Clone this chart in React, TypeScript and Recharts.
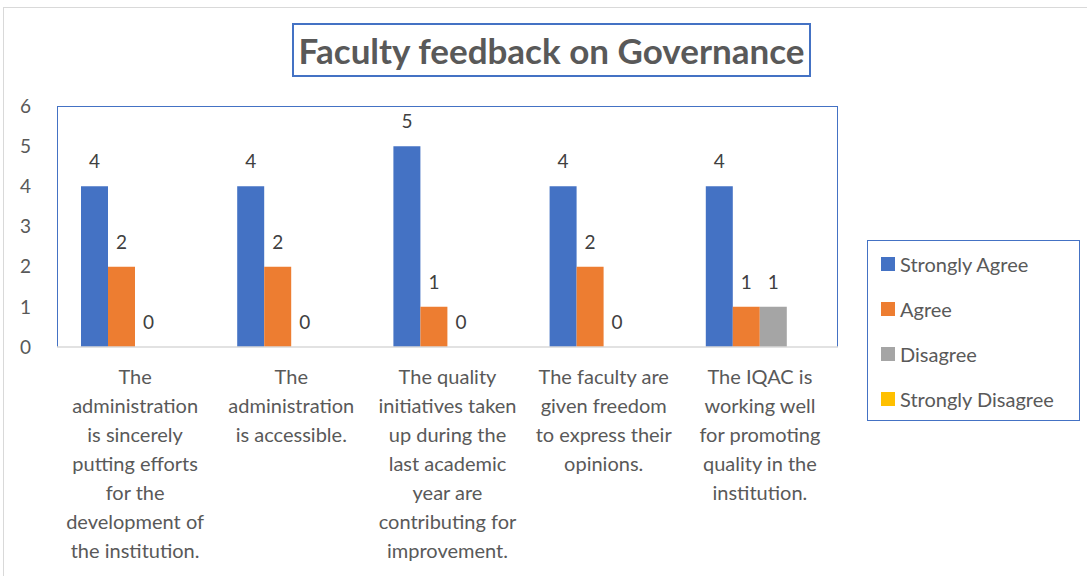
import { BarChart, Bar, XAxis, YAxis, LabelList } from "recharts";

const categories = [
    "The administration is sincerely putting efforts for the development of the institution.",
    "The administration is accessible.",
    "The quality initiatives taken up during the last academic year are contributing for improvement.",
    "The faculty are given freedom to express their opinions.",
    "The IQAC is working well for promoting quality in the institution.",
];

const categoryLines = [
    ["The", "administration", "is sincerely", "putting efforts", "for the", "development of", "the institution."],
    ["The", "administration", "is accessible."],
    ["The quality", "initiatives taken", "up during the", "last academic", "year are", "contributing for", "improvement."],
    ["The faculty are", "given freedom", "to express their", "opinions."],
    ["The IQAC is", "working well", "for promoting", "quality in the", "institution."],
];

const stronglyAgree = [4, 4, 5, 4, 4];
const agree = [2, 2, 1, 2, 1];
const disagree = [0, 0, 0, 0, 1];
const stronglyDisagree = [null, null, null, null, null];

const yTicks = [0, 1, 2, 3, 4, 5, 6];

const series = [
    { key: "Strongly Agree", color: "#4472C4" },
    { key: "Agree", color: "#ED7D31" },
    { key: "Disagree", color: "#A5A5A5" },
    { key: "Strongly Disagree", color: "#FFC000" },
];

const data = categories.map((name, i) => ({
    name,
    "Strongly Agree": stronglyAgree[i],
    Agree: agree[i],
    Disagree: disagree[i],
    "Strongly Disagree": stronglyDisagree[i],
}));

const FONT = "Lato, 'Noto Sans', sans-serif";
const TEXT = "#595959";

const CategoryTick = (props: any) => {
    const { x, y, index } = props;
    const lines = categoryLines[index] || [];
    return (
        <text x={x} y={y} textAnchor="middle" fill={TEXT} fontSize={20} fontFamily={FONT}>
            {lines.map((line, i) => (
                <tspan key={i} x={x} y={y + 29 + i * 29}>
                    {line}
                </tspan>
            ))}
        </text>
    );
};

// custom value label so that zero values still get drawn
const ValueLabel = (props: any) => {
    const { x, y, width, value } = props;
    if (value === null || value === undefined) return null;
    return (
        <text
            x={Number(x) + Number(width) / 2}
            y={Number(y) - 18}
            textAnchor="middle"
            fill="#404040"
            fontSize={19}
            fontFamily={FONT}
        >
            {value}
        </text>
    );
};

const App = () => {
    return (
        <div
            style={{
                position: "absolute",
                left: 0,
                top: 0,
                width: 1087,
                height: 576,
                overflow: "hidden",
                background: "#fff",
                fontFamily: FONT,
            }}
        >
            <div
                style={{
                    position: "absolute",
                    left: 3,
                    top: 7,
                    width: 1200,
                    height: 700,
                    border: "1.5px solid #D9D9D9",
                }}
            />
            <div
                style={{
                    position: "absolute",
                    left: 292,
                    top: 23,
                    width: 519,
                    height: 54,
                    border: "2px solid #4472C4",
                    boxSizing: "border-box",
                    display: "flex",
                    alignItems: "center",
                    justifyContent: "center",
                    fontWeight: "bold",
                    fontSize: 35,
                    color: TEXT,
                }}
            >
                Faculty feedback on Governance
            </div>
            <div
                style={{
                    position: "absolute",
                    left: 57,
                    top: 106,
                    width: 781,
                    height: 241,
                    borderLeft: "1.5px solid #4472C4",
                    borderTop: "1.5px solid #4472C4",
                    borderRight: "1.5px solid #4472C4",
                    boxSizing: "border-box",
                    pointerEvents: "none",
                }}
            />
            <div
                style={{
                    position: "absolute",
                    left: 867,
                    top: 240,
                    width: 213,
                    height: 181,
                    border: "1.5px solid #4472C4",
                    boxSizing: "border-box",
                    paddingLeft: 13,
                    fontSize: 20,
                    color: TEXT,
                }}
            >
                {series.map((s) => (
                    <div key={s.key} style={{ display: "flex", alignItems: "center", height: 45 }}>
                        <span style={{ width: 14, height: 14, background: s.color, marginRight: 5 }} />
                        <span>{s.key}</span>
                    </div>
                ))}
            </div>
            <div style={{ position: "absolute", left: 0, top: 0 }}>
                <BarChart
                    width={1087}
                    height={576}
                    data={data}
                    barGap={0}
                    barCategoryGap={24}
                    margin={{ top: 106, right: 249, left: 0, bottom: 0 }}
                >
                    <XAxis
                        dataKey="name"
                        height={229}
                        interval={0}
                        tickLine={false}
                        axisLine={{ stroke: "#D9D9D9", strokeWidth: 1.5 }}
                        tick={<CategoryTick />}
                    />
                    <YAxis
                        width={57}
                        domain={[0, 6]}
                        ticks={yTicks}
                        axisLine={false}
                        tickLine={false}
                        tickMargin={20}
                        tick={{ fill: TEXT, fontSize: 19, fontFamily: FONT }}
                    />
                    {series.map((s) => (
                        <Bar
                            key={s.key}
                            dataKey={s.key}
                            fill={s.color}
                            minPointSize={0.01}
                            isAnimationActive={false}
                        >
                            <LabelList dataKey={s.key} content={<ValueLabel />} />
                        </Bar>
                    ))}
                </BarChart>
            </div>
        </div>
    );
};

export default App;
